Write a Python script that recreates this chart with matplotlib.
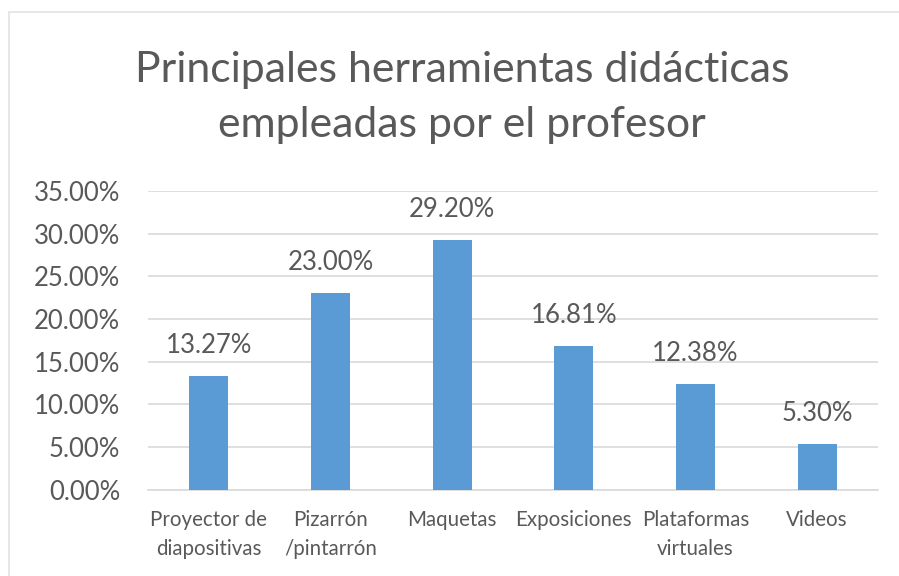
import matplotlib.pyplot as plt
from matplotlib.patches import Rectangle

categories = ['Proyector de\ndiapositivas', 'Pizarrón\n/pintarrón', 'Maquetas',
              'Exposiciones', 'Plataformas\nvirtuales', 'Videos']
values = [13.27, 23.00, 29.20, 16.81, 12.38, 5.30]
yticks = [0, 5, 10, 15, 20, 25, 30, 35]

text_color = '#595959'
grid_color = '#D9D9D9'
bar_color = '#5B9BD5'

plt.rcParams['font.family'] = ['Lato', 'DejaVu Sans']

fig = plt.figure(figsize=(8.99, 5.76), dpi=100)
ax = fig.add_axes([148 / 899, 1 - 489.5 / 576, 730 / 899, (489.5 - 191) / 576])

x = range(len(categories))
bars = ax.bar(x, values, width=0.32, color=bar_color, zorder=3)
ax.bar_label(bars, labels=['%.2f%%' % v for v in values], padding=13,
             fontsize=18.5, color=text_color)

ax.set_xlim(-0.5, len(categories) - 0.5)
ax.set_ylim(0, 35)
ax.set_yticks(yticks)
ax.set_yticklabels(['%.2f%%' % t for t in yticks])
ax.set_xticks(list(x))
ax.set_xticklabels(categories, linespacing=1.55)
ax.tick_params(axis='y', length=0, pad=20, labelsize=18.5, labelcolor=text_color)
ax.tick_params(axis='x', length=0, pad=15, labelsize=14.8, labelcolor=text_color)
ax.grid(axis='y', color=grid_color, linewidth=1.2, zorder=0)
for s in ['top', 'right', 'left']:
    ax.spines[s].set_visible(False)
ax.spines['bottom'].set_color(grid_color)
ax.spines['bottom'].set_linewidth(1.2)

# title in two lines
fig.text(462 / 899, 1 - 82 / 576, 'Principales herramientas didácticas',
         ha='center', va='baseline', fontsize=30.8, color=text_color)
fig.text(462 / 899, 1 - 137 / 576, 'empleadas por el profesor',
         ha='center', va='baseline', fontsize=30.8, color=text_color)

# chart frame (runs off the right and bottom edges)
fig.patches.append(Rectangle((9 / 899, -0.1), 1.1, 1 - 12 / 576 + 0.1,
                             transform=fig.transFigure, fill=False,
                             edgecolor='#E3E3E3', linewidth=1.2))

fig.savefig('out.png', dpi=100)
